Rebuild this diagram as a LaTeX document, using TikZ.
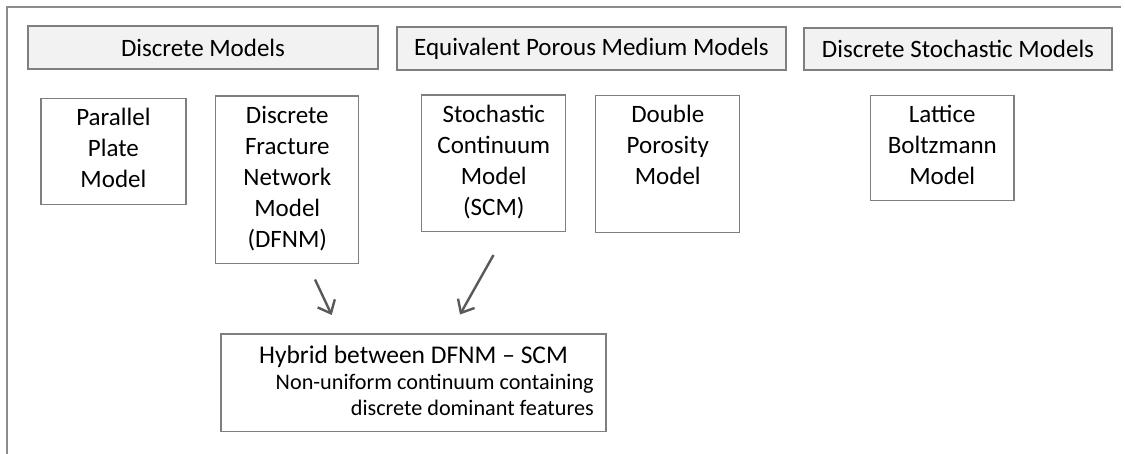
\documentclass[tikz,border=0pt]{standalone}
\usepackage{fontspec}
\setmainfont{Carlito}
\usetikzlibrary{arrows.meta}
\definecolor{framegray}{HTML}{8C8C8C}
\definecolor{boxgray}{HTML}{7F7F7F}
\definecolor{headfill}{HTML}{F2F2F2}
\definecolor{arrowgray}{HTML}{595959}
\definecolor{inkc}{HTML}{000000}
\newcommand{\firstline}{\rule{0pt}{20pt}}
\tikzset{
  header/.style={draw=boxgray, line width=1.3pt, fill=headfill, inner sep=0pt,
    text=inkc, font=\fontsize{25}{31}\selectfont},
  modelbox/.style={draw=boxgray, line width=1.3pt, fill=white, inner sep=0pt},
  boxtext/.style={anchor=north, align=center, inner sep=0pt, text=inkc,
    font=\fontsize{25}{31}\selectfont, execute at begin node=\firstline},
  link/.style={draw=arrowgray, line width=2.4pt,
    -{Straight Barb[length=11pt, width=19pt, line width=2.4pt]}},
}
\begin{document}
\begin{tikzpicture}[x=1pt, y=-1pt]
\useasboundingbox (0,0) rectangle (1125,454);

% partial outer frame
\coordinate (fbl) at (7,454);
\coordinate (ftl) at (7,7);
\coordinate (ftr) at (1121,7);
\draw[framegray, line width=1.2pt] (fbl) -- (ftl) -- (ftr);

% column headers
\node[header, minimum width=350pt, minimum height=43pt] (hdisc) at (203,47.5) {Discrete Models};
\node[header, minimum width=389pt, minimum height=43pt] (hepm) at (591.5,48.5) {Equivalent Porous Medium Models};
\node[header, minimum width=308pt, minimum height=42pt] (hdsm) at (958,49) {Discrete Stochastic Models};

% model boxes
\node[modelbox, minimum width=145pt, minimum height=106pt] (pp) at (113.4,151.2) {};
\node[boxtext] (pptext) at ([yshift=-10pt]pp.north) {Parallel\\Plate\\Model};

\node[modelbox, minimum width=143pt, minimum height=167.5pt] (dfnm) at (287.3,179.8) {};
\node[boxtext] (dfnmtext) at ([yshift=-10.5pt]dfnm.north) {Discrete\\Fracture\\Network\\Model\\(DFNM)};

\node[modelbox, minimum width=144pt, minimum height=136.5pt] (scm) at (493.8,163.4) {};
\node[boxtext] (scmtext) at ([yshift=-10pt]scm.north) {Stochastic\\Continuum\\Model\\(SCM)};

\node[modelbox, minimum width=144pt, minimum height=137pt] (dp) at (667.8,164.2) {};
\node[boxtext] (dptext) at ([yshift=-10pt]dp.north) {Double\\Porosity\\Model};

\node[modelbox, minimum width=143.5pt, minimum height=105.5pt] (lb) at (942.3,148) {};
\node[boxtext] (lbtext) at ([yshift=-10pt]lb.north) {Lattice\\Boltzmann\\Model};

% hybrid box
\node[modelbox, minimum width=385pt, minimum height=97.7pt] (hyb) at (413.5,382.9) {};
\node[anchor=north, inner sep=0pt, text=inkc, font=\fontsize{25.5}{31}\selectfont,
  execute at begin node=\firstline]
  (hybtitle) at ([yshift=-10pt]hyb.north) {Hybrid between DFNM -- SCM};
\node[anchor=north east, align=right, inner sep=0pt, text=inkc, font=\fontsize{22.2}{25.6}\selectfont,
  execute at begin node=\rule{0pt}{18pt}]
  (hybsub) at ([xshift=-12.7pt, yshift=-40.7pt]hyb.north east) {Non-uniform continuum containing\\discrete dominant features};

% arrows into the hybrid
\coordinate (a1s) at (315,279.5);
\coordinate (a1e) at (331.7,315);
\coordinate (a2s) at (493.5,255);
\coordinate (a2e) at (460,314.5);
\draw[link] (a1s) -- (a1e);
\draw[link] (a2s) -- (a2e);
\end{tikzpicture}
\end{document}
